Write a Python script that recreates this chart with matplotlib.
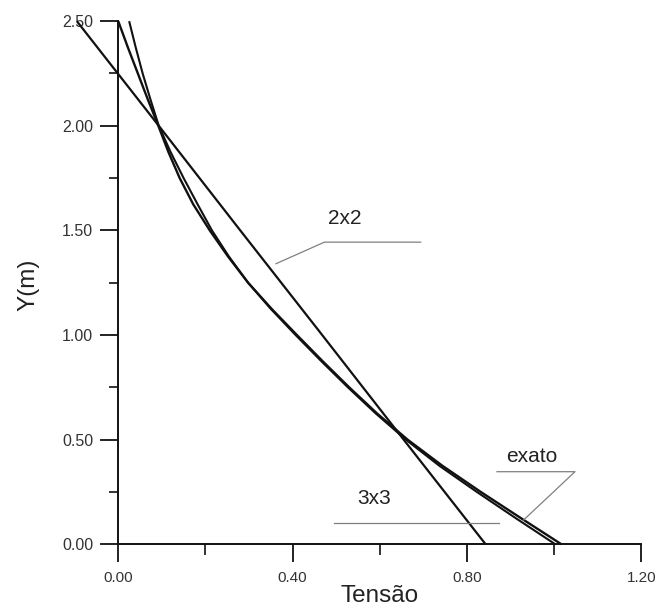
import matplotlib
matplotlib.use("Agg")
import matplotlib.pyplot as plt
from matplotlib.ticker import FixedLocator, FormatStrFormatter

plt.rcParams['font.family'] = ['Liberation Sans', 'DejaVu Sans']

# ---- data ----
y_exato = [2.5, 2.375, 2.25, 2.125, 2.0, 1.875, 1.75, 1.625, 1.5, 1.375, 1.25,
           1.125, 1.0, 0.875, 0.75, 0.625, 0.5, 0.375, 0.25, 0.125, 0.0]
x_exato = [0.000, 0.022, 0.045, 0.068, 0.092, 0.115, 0.141, 0.172, 0.210, 0.252, 0.298,
           0.352, 0.410, 0.469, 0.530, 0.594, 0.664, 0.744, 0.832, 0.924, 1.017]

y_3x3 = [2.5, 2.375, 2.25, 2.125, 2.0, 1.875, 1.75, 1.625, 1.5, 1.375, 1.25,
         1.125, 1.0, 0.875, 0.75, 0.625, 0.5, 0.375, 0.25, 0.125, 0.0]
x_3x3 = [0.025, 0.040, 0.056, 0.074, 0.093, 0.120, 0.150, 0.182, 0.215, 0.254, 0.298,
         0.350, 0.407, 0.466, 0.527, 0.591, 0.660, 0.737, 0.823, 0.912, 1.003]

y_2x2 = [2.5, 2.0, 1.5, 1.0, 0.5, 0.0]
x_2x2 = [-0.095, 0.093, 0.280, 0.468, 0.655, 0.843]

x_major = [0.0, 0.4, 0.8, 1.2]
x_minor = [0.2, 0.6, 1.0]
y_major = [0.0, 0.5, 1.0, 1.5, 2.0, 2.5]
y_minor = [0.25, 0.75, 1.25, 1.75, 2.25]

x_title = "Tensão"
y_title = "Y(m)"

# annotation labels and their leader lines
ann_text = ["2x2", "exato", "3x3"]
ann_pos = [(0.519, 1.558), (0.949, 0.418), (0.587, 0.219)]
ann_lead_x = [[0.362, 0.473, 0.694], [0.869, 1.048, 0.930], [0.495, 0.873]]
ann_lead_y = [[1.341, 1.444, 1.444], [0.347, 0.347, 0.116], [0.103, 0.103]]

# ---- figure ----
fig = plt.figure(figsize=(6.57, 6.14), dpi=100)
ax = fig.add_axes([0.1800, 0.1135, 0.7960, 0.8520])

ink = '#111111'
ax.plot(x_exato, y_exato, color=ink, lw=1.7, clip_on=False, solid_capstyle='butt')
ax.plot(x_3x3, y_3x3, color=ink, lw=1.5, clip_on=False, solid_capstyle='butt')
ax.plot(x_2x2, y_2x2, color=ink, lw=1.6, clip_on=False, solid_capstyle='butt')

for t, (tx, ty), lx, ly in zip(ann_text, ann_pos, ann_lead_x, ann_lead_y):
    ax.plot(lx, ly, color='#808080', lw=0.9, clip_on=False)
    ax.text(tx, ty, t, ha='center', va='center', fontsize=15, color='#222222')

ax.set_xlim(0, 1.2)
ax.set_ylim(0, 2.5)

for s in ['top', 'right']:
    ax.spines[s].set_visible(False)
for s in ['left', 'bottom']:
    ax.spines[s].set_linewidth(1.4)
    ax.spines[s].set_color(ink)

ax.xaxis.set_major_locator(FixedLocator(x_major))
ax.xaxis.set_minor_locator(FixedLocator(x_minor))
ax.yaxis.set_major_locator(FixedLocator(y_major))
ax.yaxis.set_minor_locator(FixedLocator(y_minor))
ax.xaxis.set_major_formatter(FormatStrFormatter('%.2f'))
ax.yaxis.set_major_formatter(FormatStrFormatter('%.2f'))

ax.tick_params(axis='x', which='major', direction='out', length=13, width=1.3,
               labelsize=11, pad=6, colors=ink, labelcolor='#333333')
ax.tick_params(axis='x', which='minor', direction='out', length=8, width=1.2, colors=ink)
ax.tick_params(axis='y', which='major', direction='out', length=13, width=1.3,
               labelsize=11.5, pad=5, colors=ink, labelcolor='#333333')
ax.tick_params(axis='y', which='minor', direction='out', length=6.5, width=1.2, colors=ink)

ax.set_xlabel(x_title, fontsize=17.5, color='#222222', va='center')
ax.xaxis.set_label_coords(0.5, -0.0995)
ax.set_ylabel(y_title, fontsize=17.5, color='#222222', va='center')
ax.yaxis.set_label_coords(-0.171, 0.496)

fig.savefig('out.png', dpi=100, facecolor='white')
